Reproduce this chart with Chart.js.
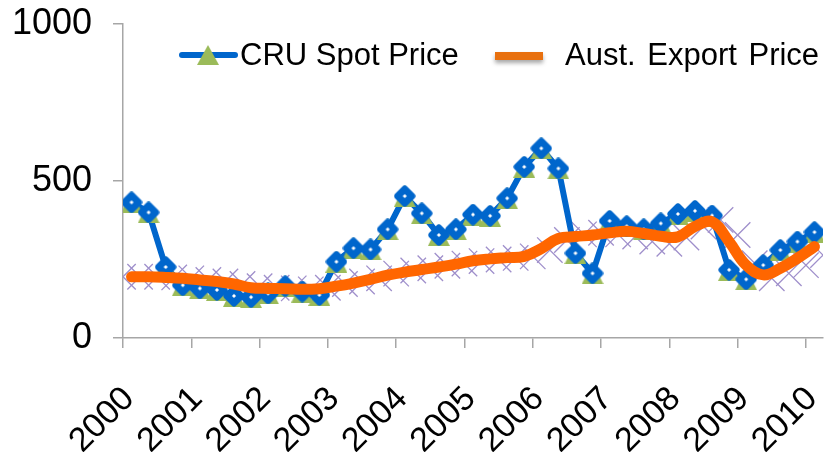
<!DOCTYPE html>
<html>
<head>
<meta charset="utf-8">
<script src="https://cdn.jsdelivr.net/npm/chart.js@4"></script>
<style>
  html, body { margin: 0; padding: 0; background: #fff; }
  #wrap { width: 825px; height: 452px; position: relative; }
</style>
</head>
<body>
<div id="wrap"><canvas id="chart"></canvas></div>
<script>
// year ticks on the x axis, quarterly data starting 2000 Q1
const years = [2000, 2001, 2002, 2003, 2004, 2005, 2006, 2007, 2008, 2009, 2010];
const firstYear = 2000;

// CRU spot price, quarterly
const cruSpot = [432, 400, 226, 168, 158, 153, 134, 130, 142, 165, 148, 137,
                 243, 286, 282, 346, 452, 397, 328, 346, 393, 389, 445, 545,
                 604, 540, 270, 206, 373, 356, 346, 365, 395, 405, 390, 217,
                 187, 232, 280, 307, 337];

// Australian export price, quarterly
const austExport = [195, 195, 193, 190, 185, 180, 172, 160, 158, 157, 155, 157,
                    165, 175, 187, 200, 210, 218, 226, 235, 246, 252, 256, 260,
                    285, 317, 323, 328, 335, 340, 333, 324, 322, 355, 370, 307,
                    232, 201, 222, 254, 291];

// unlabelled cross-marker series (sits on quarter boundaries)
const crossMarks = [195, 195, 195, 193, 190, 185, 180, 172, 165, 160, 158, 155,
                    160, 172, 180, 190, 205, 215, 222, 230, 237, 245, 250, 255,
                    260, 280, 312, 330, 335, 330, 323, 307, 300, 320, 355, 376,
                    328, 238, 190, 206, 232, 264];

const blue = '#0066CC';
const green = '#9BBB59';
const orange = '#FF6600';
const axisGrey = '#A6A6A6';
const fontFamily = '"Liberation Sans", Arial, sans-serif';

function toPoints(values, shift) {
    return values.map((v, i) => ({ x: firstYear + (i + shift) / 4, y: v }));
}

function makeTriangle(size, color) {
    const c = document.createElement('canvas');
    c.width = size; c.height = size;
    const g = c.getContext('2d');
    g.fillStyle = color;
    g.beginPath();
    g.moveTo(size / 2, 0);
    g.lineTo(size, size);
    g.lineTo(0, size);
    g.closePath();
    g.fill();
    return c;
}

function makeDiamond(size, color) {
    const c = document.createElement('canvas');
    c.width = size; c.height = size;
    const g = c.getContext('2d');
    const m = size / 2, r = size / 2 - 4;
    g.beginPath();
    g.moveTo(m, m - r); g.lineTo(m + r, m); g.lineTo(m, m + r); g.lineTo(m - r, m);
    g.closePath();
    g.fillStyle = '#fff';
    g.fill();
    g.lineWidth = 7;
    g.lineJoin = 'round';
    g.strokeStyle = color;
    g.stroke();
    return c;
}

const triangleImg = makeTriangle(22, green);
const diamondImg = makeDiamond(22, blue);

// legend drawn inside the plot area, like the original
const legendPlugin = {
    id: 'insideLegend',
    afterDraw(chart) {
        const ctx = chart.ctx;
        ctx.save();
        ctx.font = '31px ' + fontFamily;
        ctx.fillStyle = '#000';
        ctx.textBaseline = 'middle';

        ctx.strokeStyle = blue;
        ctx.lineWidth = 6;
        ctx.lineCap = 'round';
        ctx.beginPath();
        ctx.moveTo(182, 55); ctx.lineTo(235, 55);
        ctx.stroke();
        ctx.drawImage(triangleImg, 197, 45, 22, 20);
        ctx.fillText('CRU Spot Price', 240, 56);

        ctx.save();
        ctx.shadowColor = 'rgba(0,0,0,0.35)';
        ctx.shadowBlur = 4;
        ctx.shadowOffsetY = 3;
        ctx.strokeStyle = '#E8700E';
        ctx.lineWidth = 8;
        ctx.lineCap = 'butt';
        ctx.beginPath();
        ctx.moveTo(495, 56); ctx.lineTo(543, 56);
        ctx.stroke();
        ctx.restore();
        ctx.wordSpacing = '3px';
        ctx.fillText('Aust. Export Price', 565, 56);
        ctx.restore();
    }
};

new Chart(document.getElementById('chart'), {
    type: 'line',
    data: {
        datasets: [
            {
                label: 'Aust. Export Price',
                data: toPoints(austExport, 0.5),
                borderColor: orange,
                borderWidth: 11,
                borderCapStyle: 'round',
                borderJoinStyle: 'round',
                tension: 0.4,
                pointRadius: 0,
                order: 0
            },
            {
                label: 'CRU diamonds',
                data: toPoints(cruSpot, 0.5),
                showLine: false,
                pointStyle: diamondImg,
                pointRadius: 10,
                order: 1
            },
            {
                label: 'CRU Spot Price',
                data: toPoints(cruSpot, 0.5),
                borderColor: blue,
                borderWidth: 6,
                borderJoinStyle: 'round',
                tension: 0,
                pointStyle: triangleImg,
                pointRadius: 10,
                order: 2
            },
            {
                label: 'marks',
                data: toPoints(crossMarks, 0),
                showLine: false,
                pointStyle: 'crossRot',
                pointRadius: 18,
                pointBorderColor: '#9F8FCB',
                pointBorderWidth: 1.3,
                order: 3
            }
        ]
    },
    options: {
        responsive: true,
        maintainAspectRatio: false,
        animation: false,
        events: [],
        layout: { autoPadding: false, padding: { top: 24, right: 2, left: 0, bottom: 0 } },
        plugins: {
            legend: { display: false },
            tooltip: { enabled: false }
        },
        scales: {
            x: {
                type: 'linear',
                min: firstYear,
                max: firstYear + cruSpot.length / 4,
                afterBuildTicks: axis => { axis.ticks = years.map(y => ({ value: y })); },
                afterFit: scale => {
                    scale.height = 114;
                    scale.paddingLeft = 0;
                    scale.paddingRight = 0;
                },
                ticks: {
                    callback: v => String(v),
                    autoSkip: false,
                    minRotation: 45,
                    maxRotation: 45,
                    color: '#000',
                    padding: 31,
                    labelOffset: 6,
                    font: { family: fontFamily, size: 34 }
                },
                grid: { drawOnChartArea: false, drawTicks: true, tickLength: 10, color: axisGrey, lineWidth: 1.5 },
                border: { color: axisGrey, width: 1.5 }
            },
            y: {
                min: 0,
                max: 1000,
                afterFit: scale => {
                    scale.width = 123;
                    scale.paddingTop = 0;
                    scale.paddingBottom = 0;
                },
                ticks: {
                    stepSize: 500,
                    callback: v => String(v),
                    color: '#000',
                    padding: 21,
                    font: { family: fontFamily, size: 36 }
                },
                grid: { drawOnChartArea: false, drawTicks: true, tickLength: 10, color: axisGrey, lineWidth: 1.5 },
                border: { color: axisGrey, width: 1.5 }
            }
        }
    },
    plugins: [legendPlugin]
});
</script>
</body>
</html>
